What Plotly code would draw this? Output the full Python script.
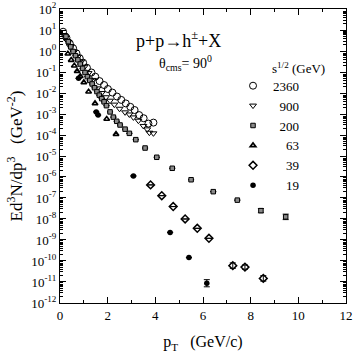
import plotly.graph_objects as go

FONT = "Liberation Serif"

# s^1/2 = 2360 GeV
pt_2360 = [0.13, 0.27, 0.41, 0.55, 0.69, 0.83, 0.97, 1.13, 1.32, 1.48, 1.66, 1.85,
           2.01, 2.20, 2.39, 2.57, 2.76, 2.95, 3.13, 3.32, 3.51, 3.71, 3.92]
y_2360 = [8.3, 4.3, 2.3, 1.35, 0.78, 0.45, 0.28, 0.16, 0.095, 0.06, 0.037, 0.024,
          0.0155, 0.0105, 6.8e-3, 4.7e-3, 3.2e-3, 2.2e-3, 1.55e-3, 8.9e-4, 6.3e-4, 3.5e-4, 3.9e-4]

# 900 GeV
pt_900 = [0.17, 0.31, 0.45, 0.59, 0.76, 0.89, 1.03, 1.20, 1.38, 1.57, 1.75, 1.93,
          2.10, 2.28, 2.50, 2.73, 2.91, 3.08, 3.29, 3.50, 3.66, 3.75, 3.92]
y_900 = [5.8, 3.0, 1.74, 0.93, 0.54, 0.31, 0.178, 0.089, 0.042, 0.0166, 0.010, 6.3e-3,
         4.3e-3, 2.8e-3, 1.78e-3, 1.2e-3, 9.5e-4, 6.9e-4, 4.8e-4, 2.7e-4, 1.86e-4, 1.29e-4, 1.2e-4]

# 200 GeV
pt_200 = [0.25, 0.35, 0.45, 0.55, 0.65, 0.75, 0.85, 0.95, 1.05, 1.15, 1.25, 1.35,
          1.45, 1.55, 1.65, 1.75, 1.85, 1.95, 2.10, 2.24, 2.38, 2.52, 2.73, 2.91,
          3.18, 3.57, 4.06, 4.71, 5.50, 6.43, 7.44, 8.43, 9.47]
y_200 = [5.0, 2.8, 1.58, 0.95, 0.6, 0.38, 0.24, 0.15, 0.095, 0.06, 0.04, 0.027,
         0.0178, 0.0117, 7.9e-3, 5.4e-3, 3.8e-3, 2.5e-3, 1.26e-3, 7.1e-4, 4.5e-4, 3.0e-4, 1.9e-4, 1.2e-4,
         6.0e-5, 2.4e-5, 8.7e-6, 2.6e-6, 7.4e-7, 2.0e-7, 7.9e-8, 2.5e-8, 1.26e-8]
err_200 = [0] * 31 + [0.10, 0.13]   # error half-width in decades

# 63 GeV
pt_63 = [0.33, 0.47, 0.60, 0.72, 0.85, 1.00, 1.20, 1.47, 1.96, 2.35]
y_63 = [0.74, 0.37, 0.2, 0.11, 0.063, 0.032, 0.0115, 3.2e-3, 5.8e-4, 1.1e-4]

# 39 GeV
pt_39 = [3.80, 4.27, 4.75, 5.25, 5.76, 6.25, 7.25, 7.76, 8.53]
y_39 = [4.2e-7, 1.29e-7, 3.9e-8, 1.0e-8, 3.6e-9, 1.2e-9, 6.0e-11, 5.1e-11, 1.48e-11]
err_39 = [0, 0, 0, 0, 0, 0, 0.13, 0.10, 0.13]

# 19 GeV
pt_19 = [0.78, 1.52, 1.60, 3.08, 4.62, 5.41, 6.16]
y_19 = [0.05, 1.26e-3, 8.9e-4, 1.12e-6, 2.3e-9, 1.45e-10, 8.7e-12]
err_19 = [0, 0, 0, 0, 0, 0, 0.17]

y_exponents = list(range(2, -13, -1))
x_ticks = [0, 2, 4, 6, 8, 10, 12]


def err_bars(y, dex):
    up = [v * (10 ** d - 1) for v, d in zip(y, dex)]
    down = [v * (1 - 10 ** -d) for v, d in zip(y, dex)]
    return dict(type="data", symmetric=False, array=up, arrayminus=down,
                color="black", thickness=1, width=3)


series = [
    ("2360", pt_2360, y_2360, None, dict(symbol="circle-open", size=7, color="black", line=dict(width=1))),
    ("900", pt_900, y_900, None, dict(symbol="triangle-down-open", size=6, color="black", line=dict(width=1))),
    ("200", pt_200, y_200, err_200, dict(symbol="square", size=4.5, color="#8a8a8a", line=dict(width=1, color="black"))),
    ("63", pt_63, y_63, None, dict(symbol="triangle-up-open", size=5, color="black", line=dict(width=1.6))),
    ("39", pt_39, y_39, err_39, dict(symbol="diamond-open", size=6, color="black", line=dict(width=1.5))),
    ("19", pt_19, y_19, err_19, dict(symbol="circle", size=5.5, color="black")),
]

fig = go.Figure()
for name, x, y, err, marker in series:
    pad = "\u00a0" * (2 * (4 - len(name)))
    fig.add_trace(go.Scatter(
        x=x, y=y, mode="markers", name=pad + name, marker=marker,
        error_y=err_bars(y, err) if err else None,
    ))

axis_common = dict(
    showline=True, linecolor="black", linewidth=1.2, mirror="allticks",
    ticks="inside", ticklen=6, tickcolor="black", tickwidth=1,
    showgrid=False, zeroline=False, automargin=False, ticklabeloverflow="allow",
    tickfont=dict(family=FONT, size=13, color="black"),
)


def note(text, x, y, size):
    return dict(text=text, x=x, y=y, xref="paper", yref="paper", xanchor="center",
                yanchor="middle", showarrow=False, font=dict(family=FONT, size=size))


fig.update_layout(
    width=354, height=354,
    margin=dict(l=60, r=8, t=9, b=51),
    paper_bgcolor="white", plot_bgcolor="white",
    font=dict(family=FONT, color="black"),
    xaxis=dict(
        **axis_common, range=[0, 12], tickvals=x_ticks,
        minor=dict(dtick=1, ticks="inside", ticklen=3, tickcolor="black"),
        title=dict(text="p<sub>T</sub>   (GeV/c)", font=dict(family=FONT, size=16), standoff=14),
    ),
    yaxis=dict(
        **axis_common, type="log", range=[-12.002, 2.002],
        tickvals=[10 ** e for e in y_exponents],
        ticktext=["10<sup>%d</sup>" % e for e in y_exponents],
        minor=dict(dtick="D1", ticks="inside", ticklen=3, tickcolor="black", showgrid=False),
        title=dict(text="Ed<sup>3</sup>N/dp<sup>3</sup>   (GeV<sup>-2</sup>)", font=dict(family=FONT, size=17), standoff=4),
    ),
    legend=dict(x=0.605, y=0.79, xanchor="left", yanchor="top", bgcolor="rgba(0,0,0,0)",
                font=dict(family=FONT, size=13), itemwidth=30, tracegroupgap=0),
    annotations=[
        note("p+p\u2192h<sup>\u00b1</sup>+X", 0.416, 0.895, 18),
        note("\u03b8<sub>cms</sub>= 90<sup>0</sup>", 0.44, 0.815, 14),
        note("s<sup>1/2</sup> (GeV)", 0.833, 0.80, 13),
    ],
)

fig.write_html("out.html", config={"displayModeBar": False},
               post_script="document.body.style.margin='0';")
